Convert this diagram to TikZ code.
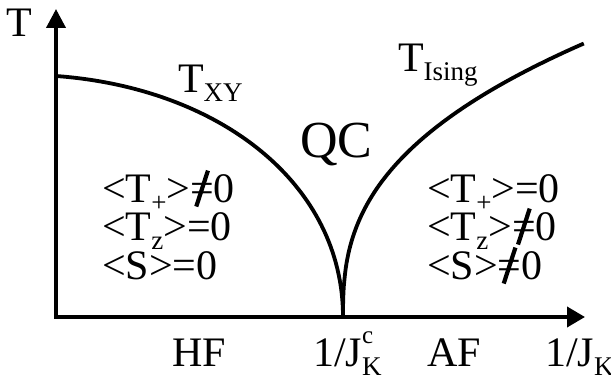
\documentclass[tikz,border=0pt]{standalone}
\usepackage{fontspec}
\setmainfont{Liberation Serif}
\usepackage{graphicx}
\usetikzlibrary{arrows.meta}
\newcommand\neqz{\ooalign{=\cr\hidewidth\raisebox{-0.1em}{\rotatebox{72}{\rule{0.9em}{0.1em}}}\hidewidth\cr}}
\newcommand\subs[1]{\raisebox{-0.2em}{\fontsize{27}{27}\selectfont #1}}
\newcommand\sups[1]{\raisebox{0.57em}{\fontsize{25}{25}\selectfont #1}}
\tikzset{
  lbl/.style={inner sep=0pt, outer sep=0pt, anchor=base west, font=\fontsize{42}{48}\selectfont},
  biglbl/.style={lbl, font=\fontsize{52}{60}\selectfont},
  axisline/.style={line width=3.8pt, line join=miter,
     {Triangle[width=19pt,length=19pt]}-{Triangle[width=20pt,length=18pt]}},
  curveline/.style={line width=3.8pt}
}
\begin{document}
\begin{tikzpicture}[x=1pt,y=-1pt]
\useasboundingbox (0,0) rectangle (611,379);
% axes
\coordinate (O) at (56,317);
\coordinate (ytip) at (56,9);
\coordinate (xtip) at (585,317);
\coordinate (cusp) at (343,317);
\coordinate (xystart) at (56,76);
\draw[axisline] (ytip) -- (O) -- (xtip);
% T_XY curve
\draw[curveline] (xystart) .. controls (220,88) and (343,184) .. (cusp);
% T_Ising curve
\draw[curveline] (cusp) -- plot[domain=0.001:1, samples=160, smooth]
   ({343+242*pow(\x,2.597)}, {317-274*\x});
% labels
\node[lbl] (Tlab) at (6,37) {T};
\node[lbl] (Txy) at (178,93) {T\subs{XY}};
\node[biglbl] (QC) at (300,158) {QC};
\node[lbl] (Tis) at (398,72) {T\subs{Ising}};
\node[lbl] (l1) at (102,203) {<T\subs{+}>\neqz0};
\node[lbl] (l2) at (102,241) {<T\subs{z}>=0};
\node[lbl] (l3) at (102,280) {<S>=0};
\node[lbl] (r1) at (427,203) {<T\subs{+}>=0};
\node[lbl] (r2) at (427,241) {<T\subs{z}>\neqz0};
\node[lbl] (r3) at (427,280) {<S>\neqz0};
\node[lbl] (HF) at (172,367) {HF};
\node[lbl] (Jc) at (313,367) {1/J\rlap{\sups{c}}\subs{K}};
\node[lbl] (AF) at (427,367) {AF};
\node[lbl] (JK) at (545,367) {1/J\subs{K}};
\end{tikzpicture}
\end{document}
